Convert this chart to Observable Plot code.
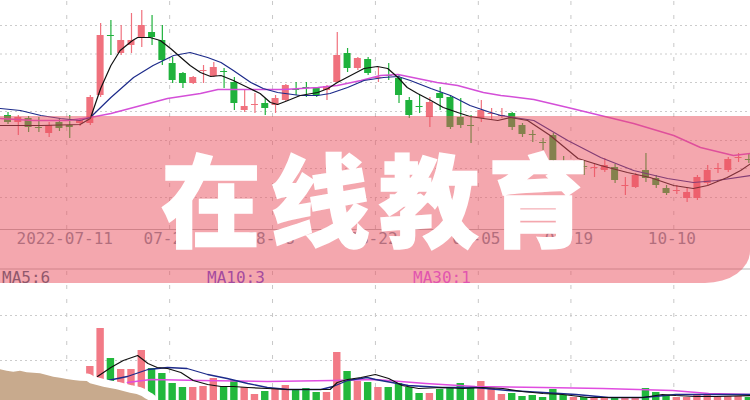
<!DOCTYPE html>
<html><head><meta charset="utf-8">
<script src="https://cdn.jsdelivr.net/npm/d3@7"></script>
<script src="https://cdn.jsdelivr.net/npm/@observablehq/plot@0.6"></script>
<style>
html,body{margin:0;padding:0;background:#fff;}
#wrap{position:relative;width:750px;height:400px;overflow:hidden;background:#fff;}
#price{position:absolute;left:0;top:0;width:750px;height:269px;overflow:hidden;}
#vol{position:absolute;left:0;top:268px;width:750px;height:132px;overflow:hidden;}
#legend{position:absolute;left:0;top:269px;width:750px;height:17px;font:16px "DejaVu Sans Mono",monospace;line-height:17px;}
#legend span{position:absolute;top:0;}
#banner{position:absolute;left:0;top:116px;width:750px;height:167px;background:rgba(233,79,93,0.5);border-bottom-right-radius:45px 32px;}
#title{position:absolute;left:0;top:146px;width:750px;height:100px;display:flex;align-items:center;justify-content:center;color:#fff;font-family:"Noto Sans CJK SC","Noto Sans CJK JP",sans-serif;font-weight:900;font-size:100px;line-height:1;letter-spacing:9px;padding-left:8px;box-sizing:border-box;-webkit-text-stroke:1.5px #fff;}
</style></head>
<body>
<div id="wrap">
  <div id="price"></div>
  <div id="vol"></div>
  <div id="legend"></div>
  <div id="banner"></div>
  <div id="title">在线教育</div>
</div>
<script>
// ---- data ----
const open  = [13.5,12.8,13.2,12.3,11.7,12.8,12.5,12.7,12.7,15.5,21.5,19.7,20.5,21.3,21.8,21.0,18.7,17.7,16.7,17.9,17.4,17.9,16.8,14.0,14.5,14.7,14.5,15.0,16.1,16.3,16.2,16.0,16.8,19.7,18.2,19.1,17.2,17.5,17.2,15.0,14.4,13.3,15.7,15.3,13.3,12.5,13.2,13.6,13.4,13.7,12.5,11.6,10.8,11.5,8.9,8.2,8.4,8.2,8.0,8.3,6.4,6.3,8.0,7.2,6.2,5.9,5.2,5.2,6.7,8.1,8.0,9.2,9.1];
const close = [12.8,13.3,12.3,12.2,12.5,12.2,12.3,13.0,15.3,21.5,21.4,21.0,21.0,22.5,21.3,19.0,17.0,16.7,17.3,18.0,18.3,17.8,14.7,14.4,14.6,14.2,15.2,16.5,16.0,16.2,15.5,16.4,19.5,18.2,19.2,17.7,17.3,17.4,15.5,13.5,14.3,14.8,15.2,12.3,12.5,12.4,14.0,13.7,13.5,12.3,11.6,11.5,10.7,9.0,8.8,8.7,8.3,8.3,8.5,7.0,6.5,7.5,7.2,6.5,5.7,6.0,5.8,7.3,8.0,8.2,9.1,9.3,9.0];
const high  = [13.8,13.5,13.4,13.3,12.8,13.2,13.5,13.2,15.5,22.7,23.0,22.5,23.7,24.0,23.5,22.5,19.3,17.8,17.4,18.5,18.8,18.2,17.3,16.0,15.7,15.2,15.5,16.6,16.8,16.8,16.3,16.5,21.8,20.2,19.3,19.3,18.3,18.7,17.5,15.3,15.5,15.3,16.3,15.5,15.2,13.5,15.0,14.2,14.2,13.8,12.7,12.0,11.2,11.7,9.4,9.0,9.0,8.7,9.2,8.6,7.3,7.7,9.7,7.5,6.5,6.5,6.2,7.5,8.5,8.7,9.3,9.7,9.6];
const low   = [12.6,11.5,11.8,11.8,11.3,11.9,11.2,12.4,12.5,15.3,19.5,19.5,19.7,20.3,20.5,18.5,16.7,16.2,16.6,16.7,17.3,16.2,14.0,13.8,13.7,13.5,13.7,14.9,15.5,15.3,15.3,15.0,16.8,17.8,18.0,17.5,16.8,17.0,14.7,13.2,13.7,12.3,14.0,12.1,12.2,10.7,12.8,13.0,13.2,12.0,11.3,10.8,10.0,8.8,8.4,7.8,7.5,7.3,7.8,6.7,5.5,6.2,6.8,6.2,5.5,5.6,4.8,5.0,6.5,7.7,7.8,8.8,8.7];
const volume = [16,14,15,13,17,14,15,16,42,80,50,39,39,58,40,35,25,21,21,22,30,22,28,21,14,17,20,23,19,20,16,16,56,37,27,26,21,21,25,21,15,15,19,21,25,21,27,20,14,15,12,13,11,19,13,11,11,10,11,11,10,10,20,16,13,11,11,13,13,12,12,12,11];

// moving-average lines: [candle index, value]
const ma5  = [[-0.73,12.5],[3.2,12.5],[7.0,12.6],[8.0,13.2],[9.0,16.2],[10.0,18.5],[10.9,20.0],[12.1,21.0],[12.6,21.3],[13.8,21.3],[14.8,21.0],[15.8,20.2],[16.8,19.3],[17.7,18.5],[18.7,17.8],[19.7,17.4],[20.7,17.5],[21.9,17.0],[23.3,16.3],[24.5,15.7],[25.5,14.8],[26.2,14.6],[27.2,15.0],[28.4,15.5],[30.1,15.8],[31.1,16.2],[32.0,16.8],[33.3,17.5],[34.6,18.2],[35.9,18.4],[36.9,18.2],[37.9,17.3],[38.8,16.3],[39.8,15.7],[41.1,15.0],[42.3,14.3],[43.7,13.8],[44.9,13.4],[46.2,13.2],[47.6,13.0],[48.8,13.3],[50.5,13.0],[52.7,11.5],[55.4,9.2],[57.6,8.5],[60.2,7.8],[62.4,7.3],[64.7,6.5],[66.6,6.2],[68.0,6.5],[69.9,7.3],[71.2,8.0],[72.2,8.7]];
const ma10 = [[-0.73,14.2],[1.2,14.0],[3.2,13.5],[5.1,13.2],[7.0,13.0],[8.0,13.3],[10.0,15.3],[12.2,17.3],[14.1,18.5],[16.1,19.5],[17.7,19.8],[19.4,19.3],[20.7,18.8],[21.9,18.0],[23.6,16.8],[24.8,16.2],[26.2,15.8],[28.4,15.5],[30.1,15.5],[31.3,15.7],[33.0,16.3],[34.6,17.0],[36.5,17.3],[37.9,17.4],[39.1,17.0],[41.1,16.2],[43.0,15.5],[44.9,14.5],[46.9,13.8],[47.9,13.5],[51.1,13.0],[54.4,11.0],[57.6,9.3],[60.8,8.0],[64.1,7.2],[66.6,6.8],[68.9,7.0],[72.2,7.5]];
const ma30 = [[-0.73,13.2],[2.5,13.0],[5.8,13.0],[8.0,13.3],[10.0,13.7],[12.2,14.3],[15.5,15.2],[18.7,15.7],[20.4,16.1],[23.6,16.1],[26.8,16.1],[30.1,16.3],[32.0,16.5],[34.3,17.0],[36.2,17.5],[37.9,17.6],[39.8,17.2],[41.7,16.8],[43.7,16.5],[46.2,15.8],[47.9,15.5],[51.1,15.1],[54.4,14.3],[57.6,13.5],[60.8,12.7],[64.7,11.5],[67.3,10.3],[70.5,9.5],[72.2,9.7]];
const vma5  = [[8.7,32],[10.0,41],[11.2,48],[12.6,53],[13.6,45],[14.5,41],[15.5,40],[16.8,36],[18.0,28],[19.4,24],[20.7,22],[21.9,22],[23.3,21],[25.2,20],[27.2,19],[29.1,19],[31.3,19],[32.0,26],[33.0,29],[34.3,31],[35.7,34],[37.0,30],[38.3,23],[39.9,20],[42.2,21],[44.2,20],[46.1,21],[48.1,20],[50.0,17],[52.0,15],[53.9,14],[56.4,11],[58.4,11],[61.7,11],[63.6,14],[64.9,13],[66.8,12],[68.8,12],[72.2,13]];
const vma10 = [[9.7,28],[11.6,32],[13.6,39],[15.5,41],[17.4,40],[19.4,34],[21.3,30],[23.3,25],[25.2,21],[27.2,19],[30.4,19],[31.6,22],[33.0,28],[34.9,31],[35.7,29],[38.9,23],[42.2,21],[45.4,21],[48.6,18],[52.0,16],[55.2,14],[58.4,11],[61.7,11],[64.9,14],[68.1,14],[72.2,14]];
const vma30 = [[11.6,26],[13.9,29],[18.7,28],[25.2,27],[31.6,28],[35.7,29],[40.6,25],[45.4,22],[52.0,21],[57.8,20],[64.6,18],[68.1,15],[72.2,14]];

// axis ticks
const dateIdx    = [6, 16, 26, 36, 46, 55, 65];
const dateLabels = ["2022-07-11", "07-25", "08-08", "08-22", "09-05", "09-19", "10-10"];
const priceGrid  = [22.5, 19.65, 16.8, 13.9, 11.0, 8.2, 5.3];
const volGrid    = [93, 48];
const maLabels   = ["MA5:6", "MA10:3", "MA30:1"];

// torn-paper edge in the lower-left corner [candle index, volume units]
const tornEdge = [[-0.73,38.7],[-0.08,37.3],[0.56,36.3],[1.21,37.3],[1.86,35.7],[2.51,35.3],[3.16,34.7],[3.81,33],[4.45,31.3],[5.1,30.3],[5.75,29],[6.4,28],[7.05,27.3],[7.7,27],[8.02,24.7],[8.67,23],[9.31,21.3],[9.96,20],[10.61,18.7],[11.25,17],[11.9,15.3],[12.55,14],[13.04,12],[13.36,9.7],[13.68,8],[14.0,-5]];

// ---- chart ----
const candles = open.map((o, i) => ({k: i, open: o, close: close[i], high: high[i], low: low[i], vol: volume[i], up: close[i] >= open[i]}));
const UP = "#f0717d", DOWN = "#1fb23c";
const VUP = "#f27a86", VDOWN = "#22b83c";
const xDomain = [-0.73, 72.16];
const yTop = 25, yBottom = 2.1;
const mono = "DejaVu Sans Mono";

const price = Plot.plot({
  width: 750, height: 269,
  marginTop: 0, marginRight: 0, marginBottom: 40, marginLeft: 0,
  x: {domain: xDomain, axis: null},
  y: {domain: [yBottom, yTop], axis: null},
  style: {background: "transparent"},
  marks: [
    Plot.ruleY(priceGrid, {stroke: "#cccccc", strokeDasharray: "2,3"}),
    Plot.ruleX(dateIdx, {x: d => d, y1: yTop, y2: yBottom, dx: -3, stroke: "#c8c8c8", strokeDasharray: "4,10", strokeDashoffset: -1}),
    Plot.ruleY([yBottom], {stroke: "#b5b5b5"}),
    Plot.ruleX(candles, {x: "k", y1: "low", y2: "high", stroke: d => d.up ? UP : DOWN, strokeWidth: 1.2}),
    Plot.rect(candles, {x1: d => d.k - 0.34, x2: d => d.k + 0.34, y1: "open", y2: "close", fill: d => d.up ? UP : DOWN}),
    Plot.line(ma30, {x: d => d[0], y: d => d[1], stroke: "#d44fd8", strokeWidth: 1.5}),
    Plot.line(ma10, {x: d => d[0], y: d => d[1], stroke: "#1c2a8a", strokeWidth: 1.2}),
    Plot.line(ma5,  {x: d => d[0], y: d => d[1], stroke: "#111111", strokeWidth: 1.2}),
    Plot.text(dateIdx, {x: d => d, text: (d, i) => dateLabels[i], frameAnchor: "bottom", dy: 14, dx: -5,
      fontFamily: mono, fontSize: 16, fill: "#7a8c9c"})
  ]
});
document.getElementById("price").appendChild(price);

const vol = Plot.plot({
  width: 750, height: 132,
  marginTop: 0, marginRight: 0, marginBottom: 0, marginLeft: 0,
  x: {domain: xDomain, axis: null},
  y: {domain: [0, 140], range: [140, 0], axis: null},
  style: {background: "transparent"},
  marks: [
    Plot.ruleY(volGrid, {stroke: "#cccccc", strokeDasharray: "2,3"}),
    Plot.ruleX(dateIdx, {x: d => d, y1: 139, y2: 0, dx: -3, stroke: "#c8c8c8", strokeDasharray: "4,10", strokeDashoffset: -2}),
    Plot.ruleY([139.5], {stroke: "#b5b5b5"}),
    Plot.rect(candles, {x1: d => d.k - 0.36, x2: d => d.k + 0.36, y1: 0, y2: "vol", fill: d => d.up ? VUP : VDOWN}),
    Plot.line(vma30, {x: d => d[0], y: d => d[1], stroke: "#e04ce0", strokeWidth: 1.5}),
    Plot.line(vma10, {x: d => d[0], y: d => d[1], stroke: "#1c2a8a", strokeWidth: 1.3}),
    Plot.line(vma5,  {x: d => d[0], y: d => d[1], stroke: "#111111", strokeWidth: 1.2}),
    Plot.line(tornEdge, {x: d => d[0], y: d => d[1], stroke: "#ffffff", strokeWidth: 16}),
    Plot.areaY(tornEdge, {x: d => d[0], y: d => d[1], fill: "#c8aa8d"})
  ]
});
document.getElementById("vol").appendChild(vol);

// MA legend row (HTML)
const legend = document.getElementById("legend");
const legendColors = ["#35607a", "#5f46e0", "#d95bff"];
const legendLeft = [2, 207, 413];
maLabels.forEach((t, i) => {
  const s = document.createElement("span");
  s.textContent = t;
  s.style.left = legendLeft[i] + "px";
  s.style.color = legendColors[i];
  legend.appendChild(s);
});
</script>
</body></html>
